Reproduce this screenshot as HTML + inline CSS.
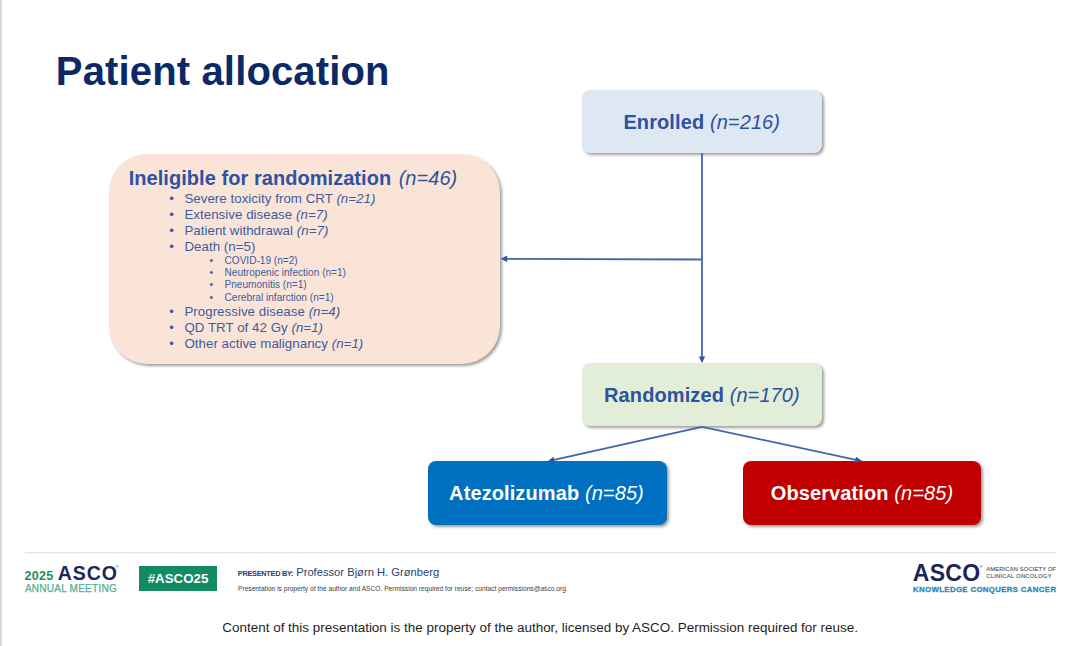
<!DOCTYPE html>
<html><head><meta charset="utf-8">
<style>
html,body{margin:0;padding:0;}
body{width:1080px;height:646px;position:relative;overflow:hidden;background:#fff;font-family:"Liberation Sans",sans-serif;}
.a{position:absolute;white-space:nowrap;line-height:1;}
.lborder{position:absolute;left:0;top:0;width:2px;height:646px;background:#dbdbdb;}
.title{left:55.8px;top:50.5px;font-size:40px;font-weight:bold;letter-spacing:0.15px;color:#0a2966;}
.box{position:absolute;box-shadow:2px 2px 3px rgba(0,0,0,0.38);}
.btxt{position:absolute;left:0;right:0;text-align:center;font-size:20px;line-height:1;letter-spacing:0.1px;}
.btxt b{font-weight:bold;}
.btxt i{font-style:italic;}
.blue{color:#2d52a0;}
.ib{font-size:13.3px;letter-spacing:0.04px;color:#3d5c9e;}
.ib i{font-style:italic;}
.sb{font-size:10.1px;color:#3d5c9e;}
</style></head><body>
<div class="lborder"></div>
<div class="a title">Patient allocation</div>

<!-- Enrolled -->
<div class="box" style="left:582px;top:89.8px;width:239.5px;height:63.5px;background:#dee8f3;border-radius:8px;">
  <div class="btxt blue" style="top:22px;"><b>Enrolled</b> <i>(n=216)</i></div>
</div>

<!-- Ineligible -->
<div class="box" style="left:108.5px;top:154px;width:391px;height:209.5px;background:#fae4d7;border-radius:38px;"></div>
<div class="a blue" style="left:128.7px;top:168.3px;font-size:20px;letter-spacing:0.05px;"><b>Ineligible for randomization</b> <i style="margin-left:1.8px;">(n=46)</i></div>

<div class="a ib" style="left:169.2px;top:191.7px;">&bull;</div>
<div class="a ib" style="left:184.4px;top:191.7px;">Severe toxicity from CRT <i>(n=21)</i></div>
<div class="a ib" style="left:169.2px;top:208px;">&bull;</div>
<div class="a ib" style="left:184.4px;top:208px;">Extensive disease <i>(n=7)</i></div>
<div class="a ib" style="left:169.2px;top:223.8px;">&bull;</div>
<div class="a ib" style="left:184.4px;top:223.8px;">Patient withdrawal <i>(n=7)</i></div>
<div class="a ib" style="left:169.2px;top:240.4px;">&bull;</div>
<div class="a ib" style="left:184.4px;top:240.4px;">Death (n=5)</div>

<div class="a sb" style="left:209.5px;top:256.4px;">&bull;</div>
<div class="a sb" style="left:224.5px;top:256.4px;">COVID-19 (n=2)</div>
<div class="a sb" style="left:209.5px;top:268.3px;">&bull;</div>
<div class="a sb" style="left:224.5px;top:268.3px;">Neutropenic infection (n=1)</div>
<div class="a sb" style="left:209.5px;top:280px;">&bull;</div>
<div class="a sb" style="left:224.5px;top:280px;">Pneumonitis (n=1)</div>
<div class="a sb" style="left:209.5px;top:292.7px;">&bull;</div>
<div class="a sb" style="left:224.5px;top:292.7px;">Cerebral infarction (n=1)</div>

<div class="a ib" style="left:169.2px;top:304.5px;">&bull;</div>
<div class="a ib" style="left:184.4px;top:304.5px;">Progressive disease <i>(n=4)</i></div>
<div class="a ib" style="left:169.2px;top:321.2px;">&bull;</div>
<div class="a ib" style="left:184.4px;top:321.2px;">QD TRT of 42 Gy <i>(n=1)</i></div>
<div class="a ib" style="left:169.2px;top:336.7px;">&bull;</div>
<div class="a ib" style="left:184.4px;top:336.7px;">Other active malignancy <i>(n=1)</i></div>

<!-- Randomized -->
<div class="box" style="left:582.3px;top:362.8px;width:239.3px;height:63.5px;background:#e2eed8;border-radius:8px;">
  <div class="btxt blue" style="top:22px;"><b>Randomized</b> <i>(n=170)</i></div>
</div>

<!-- Atezolizumab -->
<div class="box" style="left:428px;top:461px;width:238.5px;height:63.6px;background:#0070c0;border-radius:8px;">
  <div class="btxt" style="top:21.6px;right:1.5px;color:#fff;"><b>Atezolizumab</b> <i>(n=85)</i></div>
</div>

<!-- Observation -->
<div class="box" style="left:743px;top:461px;width:238px;height:63.6px;background:#c00000;border-radius:8px;">
  <div class="btxt" style="top:21.7px;color:#fff;"><b>Observation</b> <i>(n=85)</i></div>
</div>

<!-- connectors -->
<svg class="a" style="left:0;top:0;" width="1080" height="646" viewBox="0 0 1080 646">
  <g stroke="#4066aa" stroke-width="1.8" fill="none">
    <line x1="702" y1="153" x2="702" y2="357"/>
    <line x1="702" y1="259.5" x2="506" y2="258.8"/>
    <line x1="702" y1="426.8" x2="554" y2="459.8"/>
    <line x1="702" y1="426.8" x2="856" y2="459.8"/>
  </g>
  <g fill="#3058a0">
    <polygon points="702,363 698.8,356.4 705.2,356.4"/>
    <polygon points="500.5,258.8 507.2,255.6 507.2,262"/>
    <polygon points="547.5,461.2 553.5,456.8 555,463"/>
    <polygon points="862.5,461.2 854.5,463 856,456.8"/>
  </g>
</svg>

<!-- footer -->
<div class="a" style="left:25px;top:552px;width:1031px;height:1px;background:#e4e5e8;box-shadow:0 0.5px 0.8px #eeeff1;"></div>

<div class="a" style="left:24.4px;top:569.8px;font-size:12.5px;font-weight:bold;letter-spacing:0.3px;color:#1f8c66;">2025</div>
<div class="a" style="left:57.8px;top:563.9px;font-size:19.5px;font-weight:bold;letter-spacing:0.9px;color:#1b2559;">ASCO</div>
<div class="a" style="left:115.5px;top:565px;font-size:4px;color:#1b2559;">&reg;</div>
<div class="a" style="left:24.9px;top:584px;font-size:10px;letter-spacing:0.25px;color:#52b08f;-webkit-text-stroke:0.25px #52b08f;">ANNUAL MEETING</div>

<div class="a" style="left:139.3px;top:566px;width:77.7px;height:25px;background:#128b63;"></div>
<div class="a" style="left:147.7px;top:572.3px;font-size:13.3px;font-weight:bold;color:#fff;">#ASCO25</div>

<div class="a" style="left:237.8px;top:569.6px;font-size:7.3px;font-weight:bold;letter-spacing:-0.25px;color:#2c3b68;">PRESENTED BY:</div>
<div class="a" style="left:296.2px;top:567.2px;font-size:11.2px;color:#2b3f6e;">Professor Bjørn H. Grønberg</div>
<div class="a" style="left:238px;top:585.8px;font-size:6.65px;color:#3c3c44;">Presentation is property of the author and ASCO. Permission required for reuse; contact permissions@asco.org.</div>

<div class="a" style="left:912.8px;top:561.5px;font-size:23px;font-weight:bold;letter-spacing:0.3px;color:#1b2559;">ASCO</div>
<div class="a" style="left:979.5px;top:564.5px;font-size:4px;color:#1b2559;">&reg;</div>
<div class="a" style="left:986.2px;top:567.3px;font-size:5.8px;letter-spacing:0.15px;color:#555b6c;-webkit-text-stroke:0.15px #555b6c;">AMERICAN SOCIETY OF</div>
<div class="a" style="left:986.2px;top:574.2px;font-size:5.8px;letter-spacing:0.27px;color:#555b6c;-webkit-text-stroke:0.15px #555b6c;">CLINICAL ONCOLOGY</div>
<div class="a" style="left:913.1px;top:586.2px;font-size:7.8px;font-weight:bold;letter-spacing:0.36px;color:#2a88b8;-webkit-text-stroke:0.3px #2a88b8;">KNOWLEDGE CONQUERS CANCER</div>

<div class="a" style="left:222.3px;top:620.6px;font-size:13.46px;color:#1e1e1e;">Content of this presentation is the property of the author, licensed by ASCO. Permission required for reuse.</div>

</body></html>
